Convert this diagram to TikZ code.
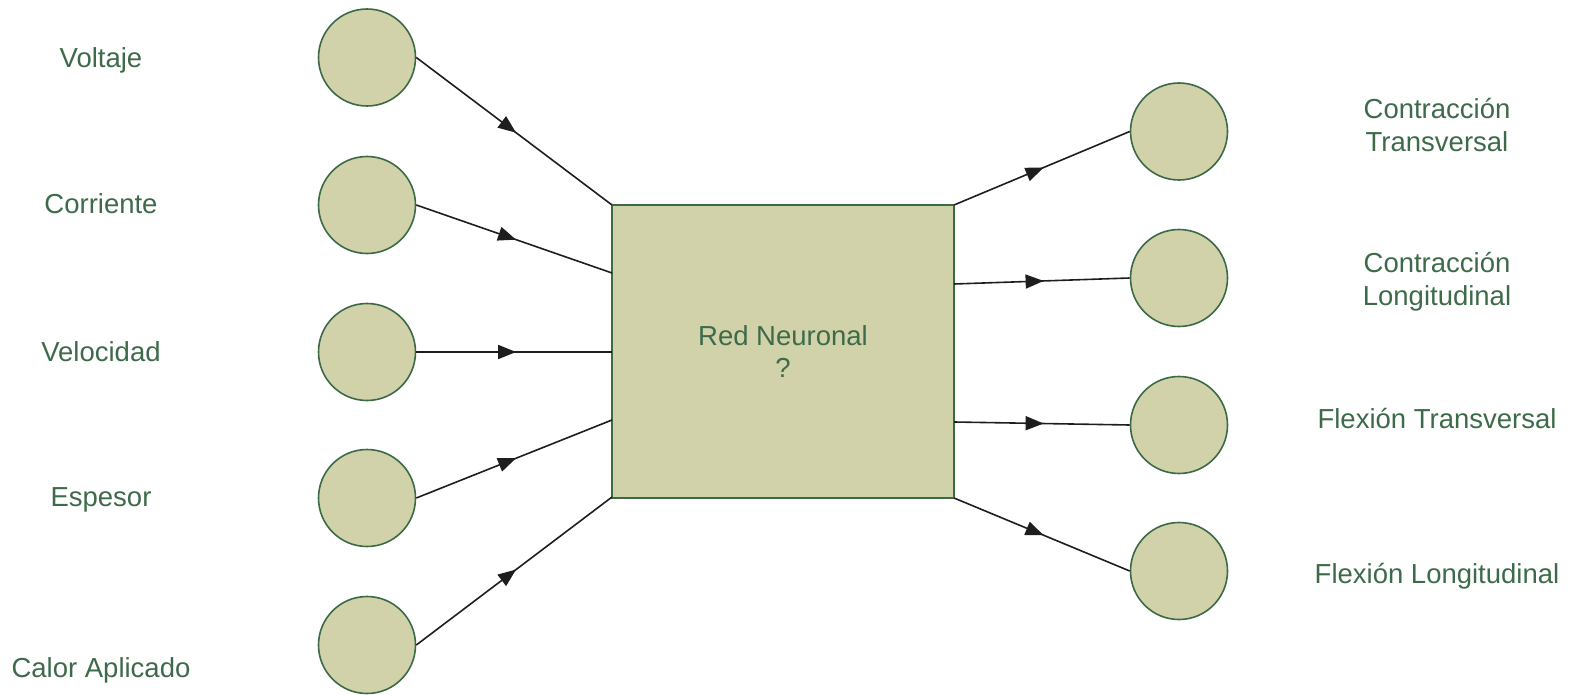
\documentclass[tikz,border=0pt]{standalone}
\usepackage{fontspec}
\setmainfont{Liberation Sans}
\usetikzlibrary{arrows.meta,decorations.markings}
\definecolor{khaki}{HTML}{D1D2A9}
\definecolor{dgreen}{HTML}{3B6A47}
\definecolor{tgreen}{HTML}{3D6B4A}
\definecolor{lineblk}{HTML}{1E1E1E}
\tikzset{
  neuron/.style={circle, draw=dgreen, fill=khaki, line width=1.6pt, minimum size=97pt, inner sep=0pt},
  netbox/.style={rectangle, draw=dgreen, fill=khaki, line width=2pt, minimum width=342pt, minimum height=293pt, inner sep=0pt, align=center, text=tgreen, font=\fontsize{27.5}{32}\selectfont},
  lbl/.style={text=tgreen, align=center, font=\fontsize{27.5}{33}\selectfont, inner sep=0pt},
  conn/.style={draw=lineblk, line width=1.6pt, postaction={decorate},
    decoration={markings, mark=at position 0.51 with {\arrow{Triangle[length=18pt,width=14pt]}}}}
}
\begin{document}
\begin{tikzpicture}[x=1pt,y=-1pt]
\useasboundingbox (0,0) rectangle (1574,695);
% input neurons
\node[neuron] (i1) at (367,57.5) {};
\node[neuron] (i2) at (367,205) {};
\node[neuron] (i3) at (367,352) {};
\node[neuron] (i4) at (367,498) {};
\node[neuron] (i5) at (367,645) {};
% output neurons
\node[neuron] (o1) at (1179,131.5) {};
\node[neuron] (o2) at (1179,278) {};
\node[neuron] (o3) at (1179,425) {};
\node[neuron] (o4) at (1179,571) {};
% network box
\node[netbox] (nn) at (783,351.5) {Red Neuronal\\?};
% attachment points on box
\coordinate (l1) at (612,205);
\coordinate (l2) at (612,273);
\coordinate (l3) at (612,352);
\coordinate (l4) at (612,420);
\coordinate (l5) at (612,497);
\coordinate (r1) at (954,205);
\coordinate (r2) at (954,284);
\coordinate (r3) at (954,422);
\coordinate (r4) at (954,498);
% connectors
\draw[conn] (i1.east) -- (l1);
\draw[conn] (i2.east) -- (l2);
\draw[conn] (i3.east) -- (l3);
\draw[conn] (i4.east) -- (l4);
\draw[conn] (i5.east) -- (l5);
\draw[conn] (r1) -- (o1.west);
\draw[conn] (r2) -- (o2.west);
\draw[conn] (r3) -- (o3.west);
\draw[conn] (r4) -- (o4.west);
% labels
\node[lbl] (t1) at (101,60) {Voltaje};
\node[lbl] (t2) at (101,204) {Corriente};
\node[lbl] (t3) at (101,352) {Velocidad};
\node[lbl] (t4) at (101,500) {Espesor};
\node[lbl] (t5) at (101,670) {Calor Aplicado};
\node[lbl] (u1) at (1437,125) {Contracción\\Transversal};
\node[lbl] (u2) at (1437,282) {Contracción\\Longitudinal};
\node[lbl] (u3) at (1437,419) {Flexión Transversal};
\node[lbl] (u4) at (1437,576) {Flexión Longitudinal};
\end{tikzpicture}
\end{document}
